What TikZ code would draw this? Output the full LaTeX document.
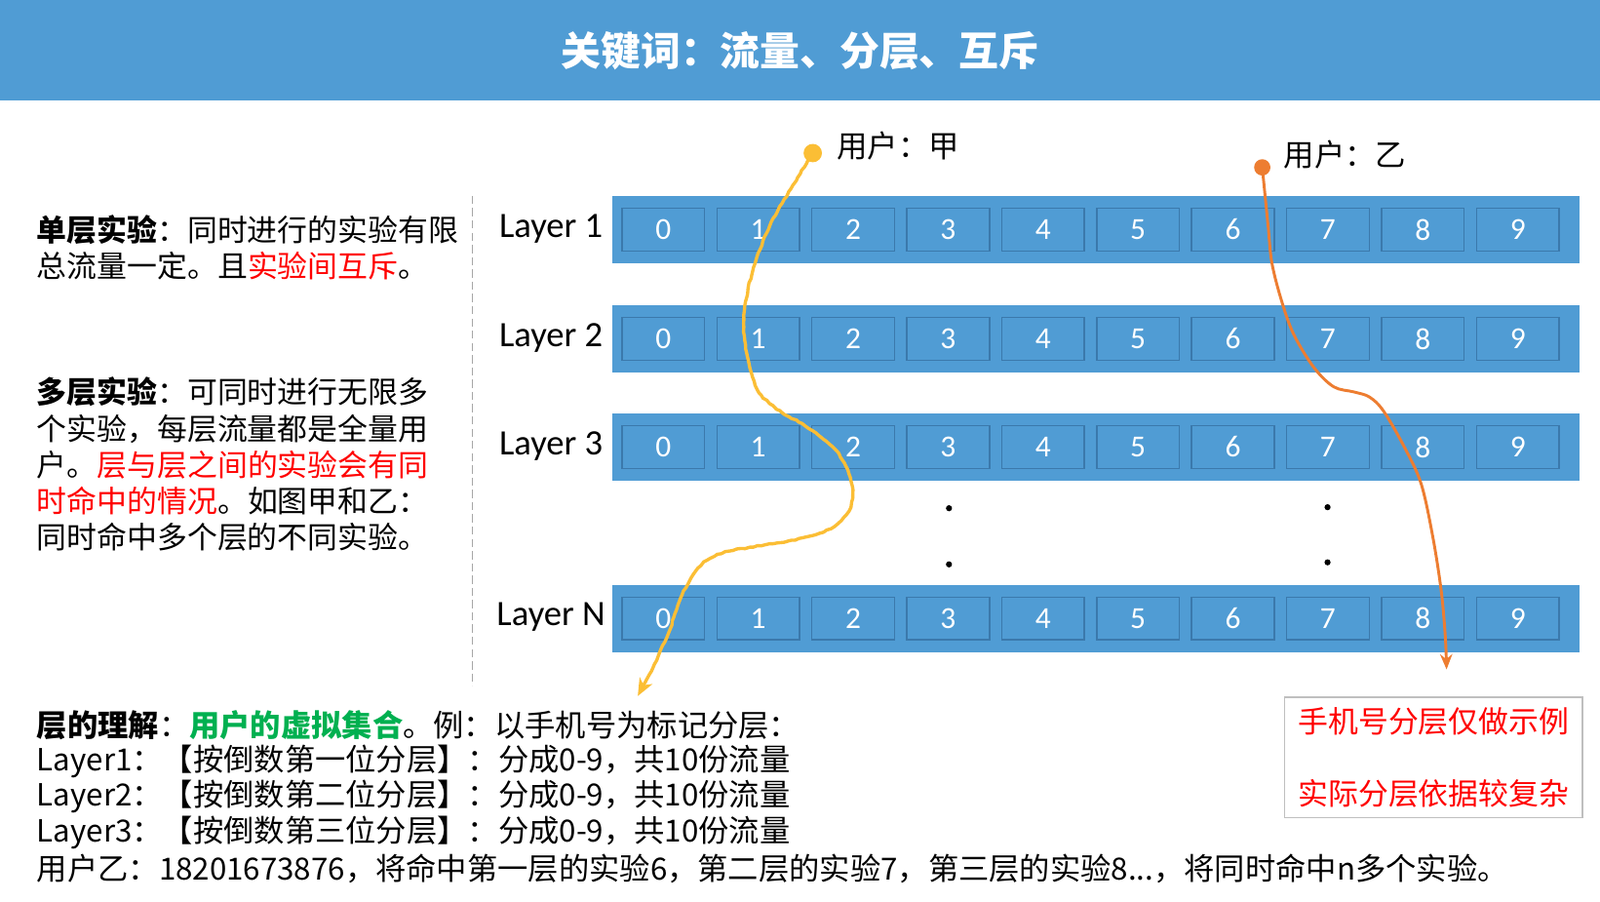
\documentclass[tikz,border=0pt]{standalone}
\usepackage{fontspec}
\setmainfont{Noto Sans CJK SC}
\newfontfamily\lat{Carlito}
\usetikzlibrary{arrows.meta,decorations.pathmorphing}
\definecolor{hdrblue}{HTML}{509CD4}
\definecolor{barblue}{HTML}{509CD4}
\definecolor{cellborder}{HTML}{3B79AC}
\definecolor{jiayellow}{HTML}{FBBE35}
\definecolor{yiorange}{HTML}{ED7D31}
\definecolor{txtred}{HTML}{FF0000}
\definecolor{txtgreen}{HTML}{00B050}
\definecolor{boxgray}{HTML}{BFBFBF}
\definecolor{dashgray}{HTML}{A6A6A6}
\tikzset{
  txt/.style={anchor=west, inner sep=0pt, font=\fontsize{29.5}{35}\selectfont},
  btxt/.style={anchor=west, inner sep=0pt, font=\fontsize{29.9}{35}\selectfont},
  layerlbl/.style={anchor=center, inner sep=0pt, font=\lat\fontsize{35}{38}\selectfont},
  barbox/.style={fill=barblue, minimum width=948pt, minimum height=66pt, inner sep=0pt, anchor=west},
  cellbox/.style={draw=cellborder, line width=1.4pt, minimum width=81pt, minimum height=42pt, inner sep=0pt, text=white, font=\lat\fontsize{30}{32}\selectfont},
  userdot/.style={circle, inner sep=0pt, minimum size=#1},
  userlbl/.style={anchor=west, inner sep=0pt, font=\fontsize{30}{34}\selectfont},
  ellip/.style={circle, fill=black, inner sep=0pt, minimum size=6pt},
}
\begin{document}
\begin{tikzpicture}[x=1pt,y=-1pt]
\useasboundingbox (0,0) rectangle (1568,883);
\fill[white] (0,0) rectangle (1568,883);
% header
\fill[hdrblue] (0,0) rectangle (1568,98);
\node[text=white, font=\bfseries\fontsize{39}{42}\selectfont, inner sep=0pt] (title) at (784,50) {关键词：流量、分层、互斥};

% dashed separator
\coordinate (sepTop) at (463,192);
\coordinate (sepBot) at (463,672);
\draw[dashgray, line width=1.5pt, dash pattern=on 8pt off 4pt] (sepTop) -- (sepBot);

% left text
\node[txt] (s1) at (36,225) {\bfseries 单层实验\mdseries：同时进行的实验有限};
\node[txt] (s2) at (36,261) {总流量一定。且\textcolor{txtred}{实验间互斥}。};
\node[txt] (m1) at (36,384) {\bfseries 多层实验\mdseries：可同时进行无限多};
\node[txt] (m2) at (36,420) {个实验，每层流量都是全量用};
\node[txt] (m3) at (36,456) {户。\textcolor{txtred}{层与层之间的实验会有同}};
\node[txt] (m4) at (36,491) {\textcolor{txtred}{时命中的情况}。如图甲和乙：};
\node[txt] (m5) at (36,526) {同时命中多个层的不同实验。};

% layers
\foreach \L/\y in {1/225, 2/332, 3/438, N/606} {
  \node[barbox] (bar\L) at (600,\y) {};
  \node[layerlbl] (lbl\L) at (540,\y-1) {Layer \L};
  \foreach \i in {0,...,9} {
    \node[cellbox] (c\L-\i) at (650+93.05*\i,\y) {\i};
  }
}

% ellipsis dots
\node[ellip] (d1) at (930,498) {};
\node[ellip] (d2) at (930,553) {};
\node[ellip] (d3) at (1301,497) {};
\node[ellip] (d4) at (1301,551) {};

% users
\node[userdot=18pt, fill=jiayellow] (ujia) at (796.5,150) {};
\node[userlbl] (ljia) at (820,143) {用户：甲};
\node[userdot=16pt, fill=yiorange] (uyi) at (1237,164) {};
\node[userlbl] (lyi) at (1258,152) {用户：乙};

\coordinate (jiaend) at (625,682);
\coordinate (yiend) at (1417.6,656);

\draw[jiayellow, line width=3.2pt, line cap=round, line join=round, -{Stealth[length=17pt,width=14pt,inset=5pt]},
  decorate, decoration={random steps, segment length=4pt, amplitude=0.6pt, pre length=4pt, post length=14pt}]
  plot[smooth, tension=0.55] coordinates {(ujia.center) (777,181.5) (762,207) (751,229) (740,258) (733,283.5) (729,309) (730,334) (736.6,366) (746,387) (766,404) (786,415) (804,428) (819,441) (829,457) (835,476) (833.5,497) (821,513) (799,524) (762,532) (715,540) (693,549) (680,562) (667,586) (656,618) (645,643) (633,667) (jiaend)};

\draw[yiorange, line width=2.8pt, -{Stealth[length=15pt,width=12pt,inset=5pt]}]
  plot[smooth, tension=0.55] coordinates {(uyi.center) (1242.6,220) (1246.5,258) (1256.3,296) (1268,328) (1287.5,360) (1307,379) (1326.6,384) (1342,389) (1356,403) (1377,439.5) (1393,475) (1404.6,528.6) (1412.5,580) (1416.4,624) (yiend)};

% bottom text
\node[btxt] (b1) at (36,711) {\bfseries 层的理解\mdseries：\textcolor{txtgreen}{\bfseries 用户的虚拟集合}。例：以手机号为标记分层：};
\node[btxt] (b2) at (36,746) {Layer1：【按倒数第一位分层】：分成0-9，共10份流量};
\node[btxt] (b3) at (36,781) {Layer2：【按倒数第二位分层】：分成0-9，共10份流量};
\node[btxt] (b4) at (36,816) {Layer3：【按倒数第三位分层】：分成0-9，共10份流量};
\node[btxt] (b5) at (36,851) {用户乙：18201673876，将命中第一层的实验6，第二层的实验7，第三层的实验8...，将同时命中n多个实验。};

% note box
\node[draw=boxgray, line width=1.5pt, minimum width=292pt, minimum height=118pt, inner sep=0pt] (note) at (1405,742) {};
\node[text=txtred, font=\fontsize{29.5}{34}\selectfont, inner sep=0pt] (n1) at (1405,707) {手机号分层仅做示例};
\node[text=txtred, font=\fontsize{29.5}{34}\selectfont, inner sep=0pt] (n2) at (1405,778) {实际分层依据较复杂};
\end{tikzpicture}
\end{document}
